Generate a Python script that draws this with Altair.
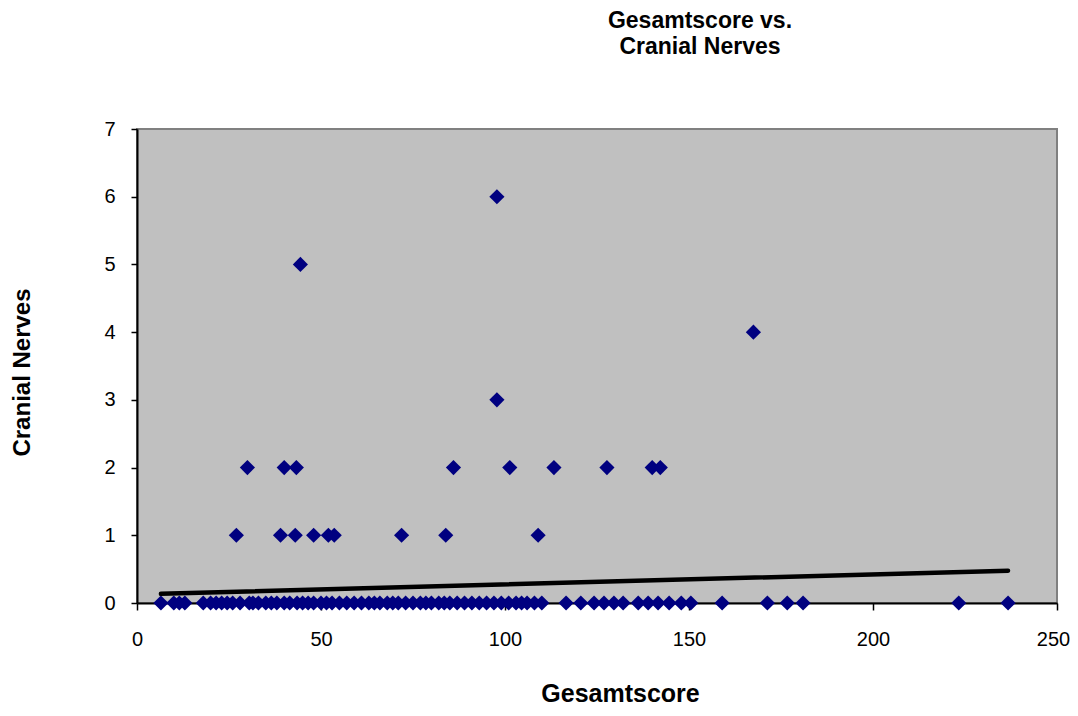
import altair as alt
import pandas as pd

# Data
zero_x = [6.5, 10, 11.5, 13, 18, 20, 21.5, 23, 24.5, 26, 28, 30.5, 31.5, 33, 35, 36.5, 38,
          40, 41.5, 43.5, 45, 46.5, 48, 50, 51.5, 53, 55, 57, 59, 61, 63, 64.5, 66, 68,
          69.5, 71, 73, 75, 77, 78.5, 80, 82, 83.5, 85, 87, 89, 91, 93, 95, 97, 99, 101,
          103, 104.5, 106, 108, 110, 116.6, 120.6, 124.2, 126.9, 129.6, 132.1, 136.2,
          138.9, 141.6, 144.6, 147.9, 150.5, 159, 171.3, 176.7, 181, 223.3, 236.7]
zero_y = [0] * len(zero_x)

pos_x = [27, 39, 43, 48, 52, 53.6, 71.9, 83.9, 109,
         30, 40, 43.3, 86, 101.3, 113.3, 127.7, 140, 142.2,
         97.8, 167.5, 44.4, 97.8]
pos_y = [1, 1, 1, 1, 1, 1, 1, 1, 1,
         2, 2, 2, 2, 2, 2, 2, 2, 2,
         3, 4, 5, 6]

# linear trend line end points (as drawn in the picture)
trend_x = [6.5, 236.7]
trend_y = [0.135, 0.477]

df = pd.DataFrame({"Gesamtscore": zero_x + pos_x, "Cranial Nerves": zero_y + pos_y})
df_trend = pd.DataFrame({"Gesamtscore": trend_x, "Cranial Nerves": trend_y})

FONT = "Liberation Sans"

x_enc = alt.X("Gesamtscore:Q",
              scale=alt.Scale(domain=[0, 250], nice=False),
              axis=alt.Axis(values=[0, 50, 100, 150, 200, 250], title="Gesamtscore",
                            format="d", grid=False, domainColor="black", domainWidth=2,
                            tickColor="black", tickSize=7, tickWidth=1.5,
                            labelFlush=False, labelOverlap=False,
                            labelOffset={"condition": {"test": "datum.value == 250", "value": -4},
                                         "value": 0},
                            labelFontSize=20, labelFont=FONT, labelPadding=19,
                            labelColor="black", titleFont=FONT, titleFontSize=25,
                            titleFontWeight="bold", titleColor="black", titlePadding=32,
                            titleX=483, titleAlign="center", titleAnchor="start"))
y_enc = alt.Y("Cranial Nerves:Q",
              scale=alt.Scale(domain=[0, 7], nice=False),
              axis=alt.Axis(values=[0, 1, 2, 3, 4, 5, 6, 7], title="Cranial Nerves",
                            format="d", grid=False, domainColor="black", domainWidth=2,
                            tickColor="black", tickSize=6, tickWidth=1.5,
                            labelFontSize=20, labelFont=FONT, labelPadding=16,
                            labelColor="black", titleFont=FONT, titleFontSize=24,
                            titleFontWeight="bold", titleColor="black", titlePadding=69,
                            titleY=243, titleAlign="center", titleAnchor="start"))

points = alt.Chart(df).mark_point(shape="diamond", filled=True, size=230,
                                  color="#000080", opacity=1).encode(x=x_enc, y=y_enc)

trend = alt.Chart(df_trend).mark_line(color="black", strokeWidth=4.5, strokeCap="round").encode(
    x="Gesamtscore:Q", y="Cranial Nerves:Q")

chart = alt.layer(points, trend).properties(
    width=920, height=474,
    background="white",
    title=alt.TitleParams(text=["Gesamtscore vs.", "Cranial Nerves"], font=FONT,
                          fontSize=23, fontWeight="bold", color="black",
                          anchor="middle", dx=103, offset=60, lineHeight=26),
    autosize=alt.AutoSizeParams(type="none"),
    padding={"left": 129, "top": 121, "right": 13, "bottom": 105},
).configure_view(fill="#C0C0C0", stroke="#808080", strokeWidth=2)

chart.save("out.html", embed_options={"renderer": "svg", "actions": False})
